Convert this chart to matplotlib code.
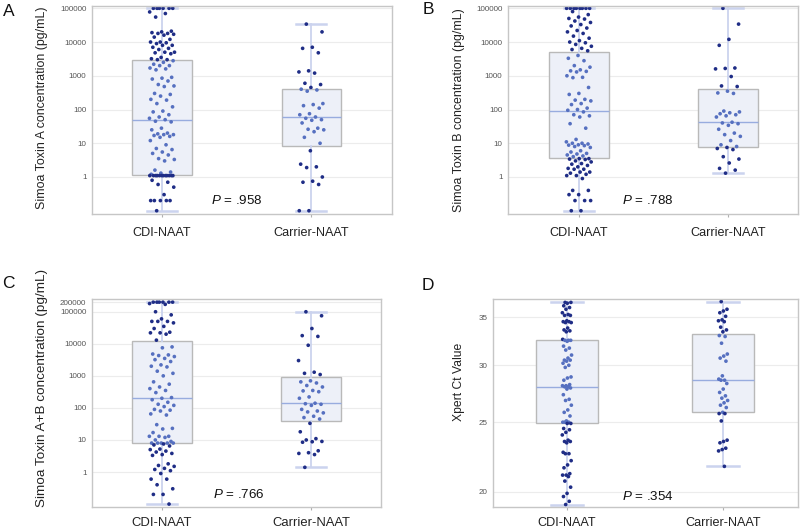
import numpy as np
import matplotlib.pyplot as plt
from matplotlib.ticker import FixedLocator, FixedFormatter, NullLocator

plt.rcParams['font.family'] = ['Liberation Sans', 'DejaVu Sans']
plt.rcParams['mathtext.fontset'] = 'custom'
plt.rcParams['mathtext.it'] = 'Liberation Sans:italic'
plt.rcParams['mathtext.rm'] = 'Liberation Sans'

groups = ['CDI-NAAT', 'Carrier-NAAT']

# Panel A - Simoa toxin A (pg/mL)
a_cdi = [100000, 100000, 100000, 100000, 100000, 100000, 78000, 70000, 55000,
         21000, 20000, 19000, 18000, 18000, 17000, 16000, 14000, 12000, 10000,
         10000, 9500, 9000, 8000, 8000, 7000, 6500, 6000, 5000, 5000, 4800, 4500,
         3500, 3200, 3000, 3000, 2800, 2500, 2200, 2000, 2000, 1700, 1600, 1500,
         900, 850, 800, 700, 550, 500, 480, 300, 280, 250, 200, 190, 150, 120,
         90, 85, 70, 60, 55, 50, 45, 43, 28, 25, 20, 19, 18, 18, 17, 16, 15, 12,
         9, 7, 6.5, 5.5, 5, 4.5, 3.5, 3.3, 3, 1.6, 1.4, 1.3, 1.2,
         1.1, 1.1, 1.1, 1.1, 1.1, 1.1, 1.1, 1.1, 1.1, 1.1, 1.1, 1.1,
         0.8, 0.7, 0.6, 0.5, 0.3, 0.2, 0.2, 0.2, 0.2, 0.2, 0.1]
a_car = [34000, 20000, 7000, 6500, 4800, 1400, 1300, 1200, 600, 550, 450, 400,
         380, 350, 150, 140, 130, 110, 75, 70, 60, 55, 50, 48, 40, 28, 26, 25,
         22, 15, 10, 6, 2.4, 2.0, 1.9, 1.0, 0.75, 0.7, 0.6, 0.1, 0.1]

# Panel B - Simoa toxin B (pg/mL)
b_cdi = [100000, 100000, 100000, 100000, 100000, 100000, 100000, 100000,
         80000, 65000, 55000, 50000, 48000, 42000, 38000, 33000, 30000, 26000,
         22000, 20000, 18000, 15000, 13000, 11000, 10000, 9500, 8500, 7500, 6500,
         6000, 5500, 4000, 3300, 2800, 2000, 1800, 1500, 1400, 1350, 1300, 1000,
         900, 880, 450, 300, 280, 200, 190, 180, 150, 140, 110, 100, 95, 85, 70,
         65, 60, 38, 28, 13, 11, 10, 10, 9.5, 9, 8.8, 8.5, 8, 7.5, 6, 5.5, 5,
         4.8, 4.5, 4.2, 4, 3.5, 3.5, 3.4, 3.3, 3, 2.8, 2.5, 2.4, 2.2, 2, 1.8,
         1.7, 1.7, 1.4, 1.4, 1.3, 1.2, 1.1, 1.1, 0.9, 0.4, 0.4, 0.3, 0.3, 0.2,
         0.2, 0.2, 0.1, 0.1]
b_car = [100000, 34000, 12000, 8000, 1700, 1650, 1600, 950, 500, 480, 350, 310,
         300, 90, 85, 80, 75, 70, 65, 60, 42, 40, 38, 34, 26, 20, 18, 16, 12, 9,
         8, 7.5, 7, 6.5, 4, 3.4, 2.6, 1.8, 1.6, 1.3]

# Panel C - Simoa toxin A+B (pg/mL)
c_cdi = [200000, 200000, 200000, 200000, 200000, 200000, 180000, 170000,
         100000, 80000, 60000, 50000, 50000, 50000, 45000, 35000, 30000, 23000,
         22000, 22000, 20000, 13000, 8000, 7500, 4800, 4500, 4300, 4000, 3500,
         3200, 2800, 2200, 2000, 1900, 1400, 1200, 1000, 650, 550, 450, 400, 350,
         300, 210, 200, 180, 150, 130, 120, 110, 90, 85, 80, 65, 60, 30, 23, 22,
         17, 13, 13, 13, 12, 10, 9, 8, 8, 8, 8, 8, 7.5, 7, 6.5, 5.2, 5, 4.5, 4.2,
         3.8, 3.5, 3.3, 1.8, 1.6, 1.5, 1.3, 1.2, 1.1, 0.9, 0.6, 0.6, 0.4, 0.3,
         0.2, 0.2, 0.1]
c_car = [100000, 75000, 30000, 18000, 17000, 9000, 3000, 1300, 1200, 1100, 700,
         650, 600, 500, 450, 350, 340, 320, 220, 200, 140, 135, 130, 120, 90, 80,
         75, 70, 55, 50, 45, 33, 18, 11, 10, 9, 8.8, 8.5, 4.6, 4, 3.8, 3.5, 1.4]

# Panel D - Xpert Ct value
d_cdi = [36.7, 36.7, 36.6, 36.3, 36.1, 35.9, 35.5, 35.3, 35.2, 35.2, 34.6, 34.5,
         34.5, 34.4, 34.4, 33.8, 33.6, 33.5, 33.4, 32.6, 32.5, 32.5, 32.5, 32.4,
         31.9, 31.7, 31.5, 31.0, 30.7, 30.5, 30.5, 30.4, 30.2, 30.0, 29.8, 28.9,
         28.8, 28.6, 28.2, 28.1, 28.1, 28.0, 28.0, 27.9, 27.8, 27.3, 26.9, 26.8,
         26.4, 26.0, 25.8, 25.5, 25.1, 25.0, 25.0, 25.0, 24.9, 24.9, 24.5, 24.4,
         24.2, 24.0, 23.6, 23.5, 23.5, 23.4, 22.7, 22.6, 22.6, 22.1, 21.8, 21.6,
         21.2, 21.1, 21.1, 21.0, 20.7, 20.3, 19.9, 19.7, 19.4, 19.2]
d_car = [36.8, 35.9, 35.7, 35.5, 35.1, 34.7, 34.6, 34.5, 33.9, 33.6, 33.4, 33.0,
         32.9, 32.2, 31.1, 30.9, 30.7, 30.4, 29.0, 28.7, 28.6, 28.6, 28.3, 27.8,
         27.5, 27.2, 27.0, 26.8, 26.6, 26.4, 26.2, 25.8, 25.7, 25.7, 25.1, 23.6,
         23.5, 23.4, 23.0, 22.9, 22.8, 21.7]

# box summaries: (whisker low, Q1, median, Q3, whisker high)
a_box = [(0.1, 1.15, 50, 2900, 100000), (0.1, 8.1, 59, 410, 34000)]
b_box = [(0.1, 3.6, 88, 5200, 100000), (1.3, 7.7, 42, 410, 100000)]
c_box = [(0.1, 7.8, 200, 12000, 200000), (1.4, 39, 140, 910, 100000)]
d_box = [(19.2, 24.95, 28.0, 32.5, 36.7), (21.7, 25.8, 28.6, 33.2, 36.8)]

p_values = ['.958', '.788', '.766', '.354']

conc_ticks = [1, 10, 100, 1000, 10000, 100000]
conc_ticks_c = [1, 10, 100, 1000, 10000, 100000, 200000]
ct_ticks = [20, 25, 30, 35]

navy = '#1f2d86'
mid_blue = '#5670c0'

W, H = 800, 532
fig = plt.figure(figsize=(8, 5.32), dpi=100)


def px_rect(l, t, r, b):
    return [l / W, 1 - b / H, (r - l) / W, (b - t) / H]


def jitter(n, width):
    k = np.arange(n)
    return width * (((k * 0.618034 + 0.3) % 1.0) * 2 - 1)


def panel(rect, data, box, ticks, ylim, xlim, ylabel, lab_fs, lab_xy,
          jw, xfs=9.1, xpad=6.5):
    ax = fig.add_axes(rect)
    ax.set_yscale('log')
    stats = [dict(whislo=s[0], q1=s[1], med=s[2], q3=s[3], whishi=s[4],
                  fliers=[]) for s in box]
    ax.bxp(stats, positions=[0, 1], widths=0.4, capwidths=0.2,
           patch_artist=True, showfliers=False, zorder=1,
           boxprops=dict(facecolor='#edf0f8', edgecolor='#b9b9b9', lw=1),
           whiskerprops=dict(color='#cbd3ee', lw=1.3),
           capprops=dict(color='#cbd3ee', lw=1.8),
           medianprops=dict(color='#98acdf', lw=1))
    for i, vals in enumerate(data):
        v = np.array(vals, dtype=float)
        inside = (v >= box[i][1]) & (v <= box[i][3])
        cols = np.where(inside, mid_blue, navy)
        ax.scatter(i + jitter(len(v), jw), v, s=7, c=cols, linewidths=0,
                   zorder=2)
    ax.set_xlim(*xlim)
    ax.set_ylim(*ylim)
    ax.yaxis.set_major_locator(FixedLocator(ticks))
    ax.yaxis.set_major_formatter(FixedFormatter([str(t) for t in ticks]))
    ax.yaxis.set_minor_locator(NullLocator())
    ax.set_xticks([0, 1], groups)
    ax.tick_params(axis='y', length=0, labelsize=5.8, labelcolor='#555555',
                   pad=4)
    ax.tick_params(axis='x', length=2.5, color='#b0b0b0', labelsize=xfs,
                   labelcolor='#222222', pad=xpad)
    ax.yaxis.grid(True, color='#ececec', lw=0.8)
    ax.set_axisbelow(True)
    for sp in ax.spines.values():
        sp.set_color('#c6c6c6')
        sp.set_linewidth(1)
    ax.set_ylabel(ylabel, fontsize=lab_fs, color='#222222')
    ax.yaxis.set_label_coords(*lab_xy)
    return ax


panel(px_rect(92, 6, 392, 214), [a_cdi, a_car], a_box, conc_ticks,
      (0.08, 1.17e5), (-0.47, 1.54), 'Simoa Toxin A concentration (pg/mL)',
      8.9, (-0.147, 0.51), 0.085)
panel(px_rect(508, 6, 798, 214), [b_cdi, b_car], b_box, conc_ticks,
      (0.08, 1.17e5), (-0.477, 1.47), 'Simoa Toxin B concentration (pg/mL)',
      8.9, (-0.148, 0.5), 0.085)
panel(px_rect(92, 299, 381, 507), [c_cdi, c_car], c_box, conc_ticks_c,
      (0.081, 2.5e5), (-0.47, 1.47), 'Simoa Toxin A+B concentration (pg/mL)',
      9.7, (-0.152, 0.572), 0.085, xfs=9.4, xpad=4.5)
panel(px_rect(493, 299, 798, 507), [d_cdi, d_car], d_box, ct_ticks,
      (19.05, 37.1), (-0.474, 1.48), 'Xpert Ct Value',
      8.7, (-0.092, 0.60), 0.03, xpad=4.5)

# panel letters
for letter, (x, y) in zip('ABCD', [(9, 11), (428, 9), (8, 283), (428, 285)]):
    fig.text(x / W, 1 - y / H, letter, fontsize=12.5, ha='center',
             va='center', color='#111111')

# P values
for pv, (x, y) in zip(p_values, [(237, 201), (648, 201), (239, 494), (648, 497)]):
    fig.text(x / W, 1 - y / H, r'$P$ = ' + pv, fontsize=9.6, ha='center',
             va='center', color='#111111')

fig.savefig('out.png', dpi=100)
